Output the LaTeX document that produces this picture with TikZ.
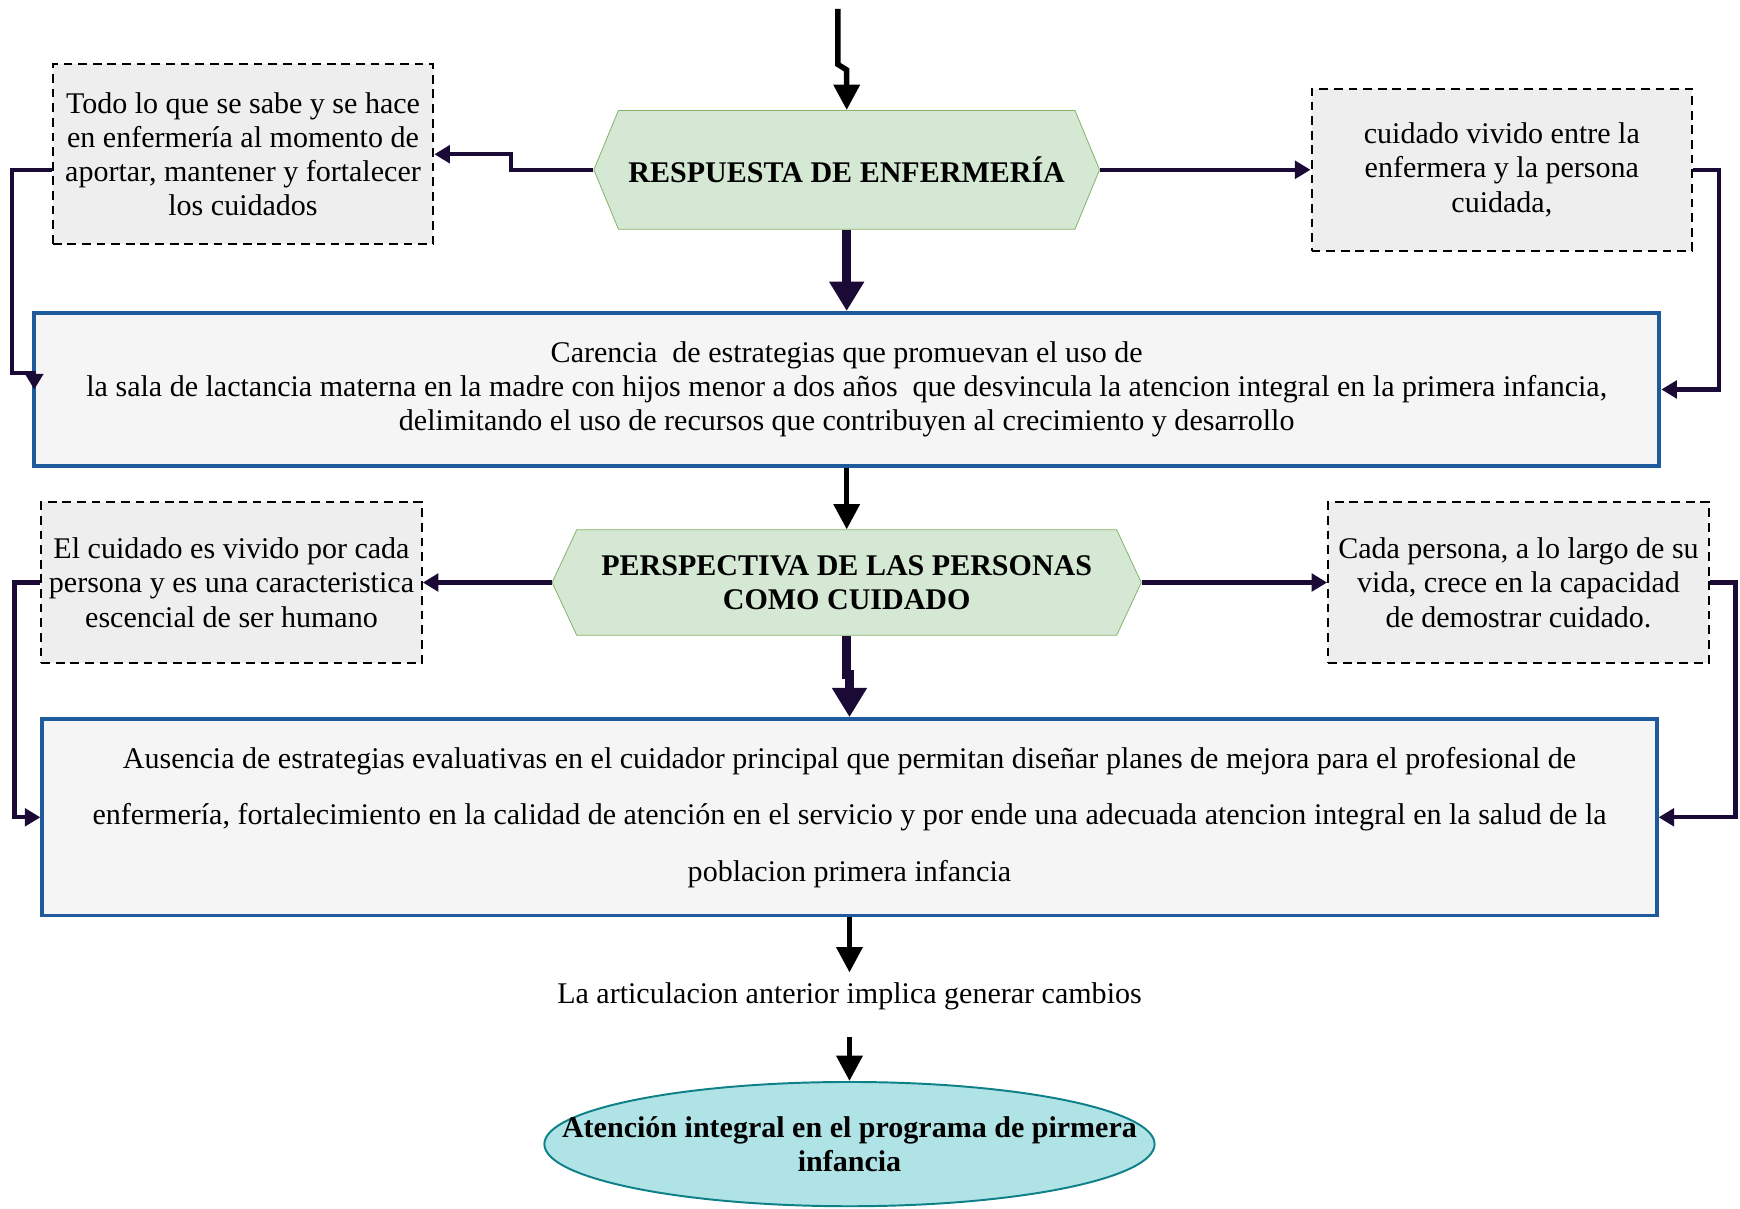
\documentclass[tikz,border=0pt]{standalone}
\usepackage{fontspec}
\setmainfont{Liberation Serif}
\usetikzlibrary{arrows.meta,positioning,shapes.geometric,shapes.symbols}
\definecolor{hexfill}{HTML}{D5E8D4}
\definecolor{hexborder}{HTML}{82B366}
\definecolor{notefill}{HTML}{EEEEEE}
\definecolor{mainfill}{HTML}{F5F5F5}
\definecolor{mainborder}{HTML}{1F5A9C}
\definecolor{elfill}{HTML}{B0E3E6}
\definecolor{elborder}{HTML}{0E8088}
\definecolor{navy}{HTML}{1B0A35}

\begin{document}
\begin{tikzpicture}[x=0.02cm, y=-0.02cm, node distance=3cm]
        \fontsize{15.4}{17.6}\selectfont
        \tikzstyle{hexa} = [signal, signal to=east and west, signal pointer angle=135, draw=hexborder, fill=hexfill, font=\bfseries, align=center, minimum width=9.06cm, minimum height=2.14cm]
        \tikzstyle{nota} = [draw, dashed, dash pattern=on 4.5pt off 3pt, line width=1.1pt, fill=notefill, rectangle, align=center, inner xsep=1pt, minimum width=6.86cm]
        \tikzstyle{bloque} = [draw=mainborder, line width=2pt, fill=mainfill, rectangle, align=center]
        \tikzstyle{fin} = [ellipse, draw=elborder, line width=1pt, fill=elfill, font=\bfseries, align=center, minimum width=11cm, minimum height=2.24cm, inner xsep=-1.4cm, inner ysep=0pt]
        \tikzstyle{flecha} = [>={Triangle[width=13pt,length=13pt]}, ->, line width=2.8pt]
        \tikzstyle{gruesa} = [>={Triangle[width=17pt,length=15pt]}, ->, draw=navy, line width=4.6pt]
        \tikzstyle{lateral} = [>={Triangle[width=9pt,length=8pt]}, ->, draw=navy, line width=2.2pt]

        \fill [white] (0,0) rectangle (1568,1089);
        \useasboundingbox (0,0) rectangle (1568,1089);

        \coordinate (entrada) at (755,8);
        \node [hexa] (respuesta) at (763,153) {RESPUESTA DE ENFERMERÍA};
        \node [nota, minimum height=3.24cm] (todo) at (219,139) {Todo lo que se sabe y se hace\\en enfermería al momento de\\aportar, mantener y fortalecer\\los cuidados};
        \node [nota, right of=respuesta, node distance=11.81cm, minimum height=2.92cm] (vivido) {cuidado vivido entre la\\enfermera y la persona\\cuidada,};
        \node [bloque, below of=respuesta, node distance=3.96cm, minimum width=29.3cm, minimum height=2.76cm] (carencia) {Carencia\ \ de estrategias que promuevan el uso de\\la sala de lactancia materna en la madre con hijos menor a dos años\ \ que desvincula la atencion integral en la primera infancia,\\delimitando el uso de recursos que contribuyen al crecimiento y desarrollo};
        \node [hexa, below of=carencia, node distance=3.48cm, signal pointer angle=130, minimum width=10.62cm, minimum height=1.9cm] (perspectiva) {PERSPECTIVA DE LAS PERSONAS\\COMO CUIDADO};
        \node [nota, left of=perspectiva, node distance=11.09cm, minimum height=2.9cm] (vivo) {El cuidado es vivido por cada\\persona y es una caracteristica\\escencial de ser humano};
        \node [nota, right of=perspectiva, node distance=12.11cm, minimum height=2.9cm] (capacidad) {Cada persona, a lo largo de su\\vida, crece en la capacidad\\de demostrar cuidado.};
        \node [bloque, font=\fontsize{15.4}{29}\selectfont, minimum width=29.1cm, minimum height=3.54cm] (ausencia) at (765.5,736.5) {Ausencia de estrategias evaluativas en el cuidador principal que permitan diseñar planes de mejora para el profesional de\\enfermería, fortalecimiento en la calidad de atención en el servicio y por ende una adecuada atencion integral en la salud de la\\poblacion primera infancia};
        \node (cambios) at (765.5,898) {La articulacion anterior implica generar cambios};
        \node [fin] (atencion) at (765.5,1031) {Atención integral en el programa de pirmera\\infancia};

        \draw [flecha] (entrada) -- ++(0,50) -- ++(8,5) -- (respuesta.north);
        \draw [lateral] (respuesta.west) -- ++(-74,0) |- (todo.east);
        \draw [lateral] (respuesta.east) -- (vivido.west);
        \draw [lateral] (vivido.east) -- ++(23,0) |- (carencia.east);
        \draw [lateral] ([yshift=-0.28cm]todo.west) -- ++(-36,0) |- ([xshift=0.04cm,yshift=0.3cm]carencia.west) -- ([xshift=0.04cm]carencia.west);
        \draw [gruesa] (respuesta.south) -- (carencia.north);
        \draw [flecha] (carencia.south) -- (perspectiva.north);
        \draw [lateral] (perspectiva.west) -- (vivo.east);
        \draw [lateral] (perspectiva.east) -- (capacidad.west);
        \draw [lateral] (vivo.west) -- ++(-23,0) |- (ausencia.west);
        \draw [lateral] (capacidad.east) -- ++(23,0) |- (ausencia.east);
        \draw [gruesa] (perspectiva.south) -- ++(0,35) -| (ausencia.north);
        \draw [flecha] (ausencia.south) -- (cambios.north);
        \draw [flecha, shorten <=0.3cm] (cambios.south) -- (atencion.north);
    \end{tikzpicture}
\end{document}
